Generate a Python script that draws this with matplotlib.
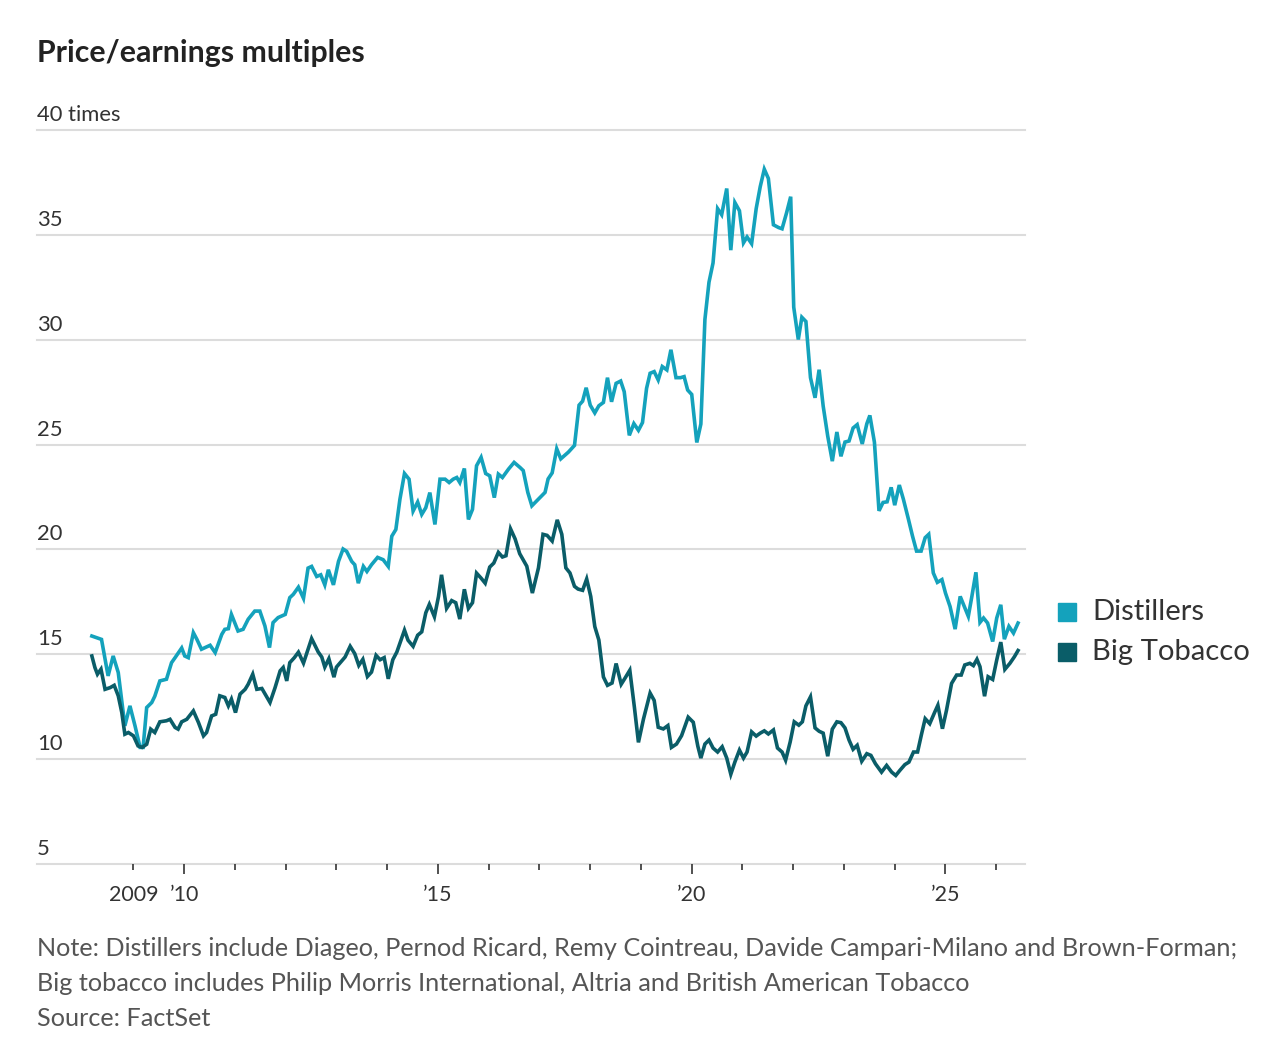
import matplotlib
matplotlib.use("Agg")
import matplotlib.pyplot as plt
from matplotlib.patches import Rectangle
from matplotlib.transforms import offset_copy

# ---------------- data (decimal years, P/E multiple) ----------------
distillers_dates = [
    2008.18, 2008.31, 2008.37, 2008.50, 2008.60, 2008.70, 2008.83, 2008.93, 2009.03, 2009.13,
    2009.19, 2009.26, 2009.36, 2009.42, 2009.52, 2009.65, 2009.75, 2009.82, 2009.95, 2010.01,
    2010.08, 2010.18, 2010.25, 2010.34, 2010.51, 2010.61, 2010.74, 2010.80, 2010.87, 2010.93,
    2011.06, 2011.16, 2011.26, 2011.39, 2011.49, 2011.59, 2011.68, 2011.75, 2011.85, 2011.99,
    2012.08, 2012.15, 2012.25, 2012.35, 2012.44, 2012.51, 2012.61, 2012.69, 2012.77, 2012.84,
    2012.94, 2013.04, 2013.13, 2013.20, 2013.30, 2013.36, 2013.43, 2013.53, 2013.60, 2013.69,
    2013.81, 2013.92, 2014.02, 2014.09, 2014.17, 2014.25, 2014.34, 2014.43, 2014.51, 2014.60,
    2014.68, 2014.76, 2014.84, 2014.94, 2015.04, 2015.14, 2015.22, 2015.30, 2015.37, 2015.43,
    2015.52, 2015.60, 2015.68, 2015.76, 2015.85, 2015.94, 2016.02, 2016.11, 2016.19, 2016.27,
    2016.39, 2016.50, 2016.62, 2016.68, 2016.77, 2016.85, 2016.98, 2017.11, 2017.17, 2017.25,
    2017.34, 2017.42, 2017.57, 2017.69, 2017.78, 2017.85, 2017.92, 2018.00, 2018.09, 2018.17,
    2018.26, 2018.34, 2018.42, 2018.51, 2018.60, 2018.67, 2018.77, 2018.86, 2018.95, 2019.03,
    2019.11, 2019.18, 2019.26, 2019.34, 2019.42, 2019.51, 2019.59, 2019.69, 2019.78, 2019.85,
    2019.92, 2020.00, 2020.10, 2020.18, 2020.26, 2020.34, 2020.42, 2020.51, 2020.59, 2020.69,
    2020.77, 2020.85, 2020.94, 2021.02, 2021.09, 2021.18, 2021.27, 2021.35, 2021.43, 2021.51,
    2021.61, 2021.71, 2021.78, 2021.87, 2021.95, 2022.01, 2022.10, 2022.17, 2022.25, 2022.34,
    2022.43, 2022.51, 2022.59, 2022.68, 2022.77, 2022.86, 2022.94, 2023.02, 2023.10, 2023.18,
    2023.26, 2023.36, 2023.45, 2023.51, 2023.60, 2023.69, 2023.77, 2023.85, 2023.93, 2024.00,
    2024.09, 2024.17, 2024.27, 2024.35, 2024.43, 2024.52, 2024.60, 2024.67, 2024.76, 2024.84,
    2024.93, 2025.00, 2025.09, 2025.19, 2025.29, 2025.37, 2025.45, 2025.52, 2025.60, 2025.68,
    2025.75, 2025.83, 2025.93, 2026.01, 2026.09, 2026.16, 2026.25, 2026.34, 2026.43,
]
distillers_pe = [
    15.87, 15.76, 15.71, 13.97, 14.92, 14.13, 11.59, 12.54, 11.59, 10.56,
    10.56, 12.46, 12.70, 13.00, 13.73, 13.81, 14.60, 14.84, 15.30, 14.92,
    14.84, 16.03, 15.71, 15.24, 15.43, 15.08, 15.95, 16.19, 16.22, 16.90,
    16.11, 16.19, 16.67, 17.06, 17.06, 16.35, 15.32, 16.51, 16.75, 16.90,
    17.70, 17.86, 18.20, 17.67, 19.11, 19.19, 18.71, 18.79, 18.31, 19.03,
    18.31, 19.43, 20.02, 19.91, 19.43, 19.27, 18.39, 19.19, 18.95, 19.27,
    19.62, 19.51, 19.19, 20.63, 20.95, 22.39, 23.62, 23.35, 21.83, 22.26,
    21.67, 21.99, 22.71, 21.19, 23.35, 23.35, 23.19, 23.35, 23.43, 23.19,
    23.86, 21.43, 21.91, 23.99, 24.39, 23.62, 23.51, 22.47, 23.59, 23.43,
    23.83, 24.15, 23.90, 23.76, 22.72, 22.08, 22.40, 22.72, 23.36, 23.65,
    24.80, 24.32, 24.64, 24.96, 26.88, 27.07, 27.71, 26.88, 26.51, 26.85,
    27.01, 28.19, 27.04, 27.92, 28.03, 27.52, 25.44, 26.00, 25.68, 26.05,
    27.68, 28.40, 28.48, 28.08, 28.72, 28.56, 29.52, 28.19, 28.19, 28.24,
    27.60, 27.39, 25.10, 25.98, 30.97, 32.74, 33.66, 36.25, 35.96, 37.21,
    34.27, 36.54, 36.15, 34.62, 34.90, 34.58, 36.25, 37.30, 38.13, 37.69,
    35.48, 35.35, 35.29, 36.06, 36.82, 31.55, 30.01, 31.07, 30.87, 28.19,
    27.23, 28.57, 26.84, 25.40, 24.21, 25.60, 24.44, 25.12, 25.17, 25.79,
    25.95, 25.03, 25.99, 26.39, 25.11, 21.84, 22.24, 22.27, 22.96, 22.11,
    23.07, 22.40, 21.44, 20.64, 19.92, 19.92, 20.56, 20.72, 18.88, 18.43,
    18.56, 17.92, 17.28, 16.20, 17.76, 17.28, 16.81, 17.76, 18.91, 16.52,
    16.73, 16.49, 15.61, 16.73, 17.36, 15.72, 16.33, 16.01, 16.49,
]

tobacco_dates = [
    2008.18, 2008.24, 2008.29, 2008.36, 2008.44, 2008.54, 2008.62, 2008.70, 2008.77, 2008.83,
    2008.90, 2009.00, 2009.09, 2009.17, 2009.26, 2009.34, 2009.42, 2009.52, 2009.65, 2009.72,
    2009.82, 2009.88, 2009.95, 2010.05, 2010.18, 2010.28, 2010.38, 2010.44, 2010.54, 2010.62,
    2010.70, 2010.80, 2010.87, 2010.93, 2011.01, 2011.10, 2011.20, 2011.26, 2011.35, 2011.43,
    2011.53, 2011.69, 2011.79, 2011.89, 2011.95, 2012.02, 2012.08, 2012.17, 2012.25, 2012.35,
    2012.51, 2012.64, 2012.71, 2012.77, 2012.85, 2012.95, 2013.00, 2013.17, 2013.27, 2013.36,
    2013.44, 2013.52, 2013.61, 2013.69, 2013.78, 2013.86, 2013.94, 2014.02, 2014.11, 2014.19,
    2014.34, 2014.41, 2014.51, 2014.60, 2014.68, 2014.76, 2014.83, 2014.93, 2015.01, 2015.07,
    2015.17, 2015.27, 2015.35, 2015.43, 2015.52, 2015.60, 2015.68, 2015.76, 2015.85, 2015.93,
    2016.02, 2016.10, 2016.19, 2016.27, 2016.34, 2016.43, 2016.52, 2016.61, 2016.75, 2016.86,
    2016.98, 2017.07, 2017.15, 2017.25, 2017.35, 2017.44, 2017.52, 2017.60, 2017.69, 2017.76,
    2017.85, 2017.93, 2018.01, 2018.09, 2018.17, 2018.26, 2018.34, 2018.43, 2018.51, 2018.61,
    2018.68, 2018.78, 2018.87, 2018.95, 2019.05, 2019.18, 2019.26, 2019.34, 2019.44, 2019.53,
    2019.60, 2019.70, 2019.80, 2019.93, 2020.03, 2020.12, 2020.18, 2020.26, 2020.34, 2020.42,
    2020.51, 2020.60, 2020.69, 2020.77, 2020.85, 2020.94, 2021.02, 2021.09, 2021.18, 2021.27,
    2021.35, 2021.43, 2021.51, 2021.61, 2021.69, 2021.78, 2021.85, 2021.94, 2022.02, 2022.11,
    2022.18, 2022.25, 2022.34, 2022.43, 2022.51, 2022.59, 2022.68, 2022.77, 2022.86, 2022.94,
    2023.02, 2023.10, 2023.18, 2023.26, 2023.35, 2023.45, 2023.53, 2023.62, 2023.74, 2023.84,
    2023.94, 2024.02, 2024.10, 2024.20, 2024.28, 2024.37, 2024.45, 2024.53, 2024.60, 2024.69,
    2024.79, 2024.85, 2024.94, 2025.02, 2025.12, 2025.22, 2025.31, 2025.38, 2025.48, 2025.55,
    2025.62, 2025.68, 2025.77, 2025.84, 2025.93, 2026.01, 2026.09, 2026.17, 2026.27, 2026.36,
    2026.43,
]
tobacco_pe = [
    14.92, 14.37, 14.05, 14.29, 13.33, 13.41, 13.52, 13.02, 12.22, 11.19,
    11.27, 11.11, 10.63, 10.56, 10.71, 11.43, 11.27, 11.78, 11.83, 11.90,
    11.51, 11.43, 11.78, 11.90, 12.30, 11.75, 11.11, 11.27, 12.06, 12.14,
    13.02, 12.94, 12.54, 12.86, 12.22, 13.10, 13.33, 13.57, 14.05, 13.33,
    13.37, 12.70, 13.41, 14.21, 14.37, 13.73, 14.60, 14.84, 15.10, 14.58,
    15.75, 15.11, 14.87, 14.39, 14.79, 13.91, 14.39, 14.87, 15.38, 15.03,
    14.47, 14.76, 13.94, 14.15, 14.95, 14.74, 14.84, 13.83, 14.74, 15.11,
    16.15, 15.67, 15.38, 15.91, 16.07, 16.98, 17.38, 16.79, 17.75, 18.79,
    17.19, 17.56, 17.46, 16.68, 18.10, 17.19, 17.46, 18.87, 18.63, 18.39,
    19.16, 19.35, 19.86, 19.64, 19.70, 20.98, 20.50, 19.80, 19.20, 17.92,
    19.12, 20.72, 20.67, 20.40, 21.41, 20.72, 19.12, 18.88, 18.24, 18.11,
    18.05, 18.59, 17.76, 16.32, 15.68, 13.92, 13.52, 13.63, 14.56, 13.57,
    13.84, 14.24, 12.48, 10.80, 11.92, 13.15, 12.80, 11.52, 11.44, 11.60,
    10.56, 10.72, 11.12, 12.00, 11.76, 10.62, 10.05, 10.72, 10.91, 10.53,
    10.34, 10.59, 10.05, 9.28, 9.86, 10.43, 10.05, 10.34, 11.30, 11.10,
    11.24, 11.35, 11.20, 11.39, 10.53, 10.34, 9.95, 10.82, 11.78, 11.62,
    11.78, 12.54, 12.97, 11.49, 11.33, 11.24, 10.14, 11.43, 11.78, 11.74,
    11.49, 10.91, 10.47, 10.66, 9.90, 10.26, 10.18, 9.78, 9.38, 9.70,
    9.38, 9.22, 9.46, 9.74, 9.86, 10.34, 10.34, 11.21, 11.93, 11.69,
    12.25, 12.57, 11.45, 12.33, 13.61, 14.01, 14.01, 14.49, 14.57, 14.46,
    14.76, 14.41, 13.00, 13.93, 13.80, 14.73, 15.58, 14.28, 14.57, 14.89,
    15.18,
]

series_names = ["Distillers", "Big Tobacco"]
series_colors = ["#14a2bc", "#0a5d68"]

y_ticks = [5, 10, 15, 20, 25, 30, 35, 40]
y_tick_labels = ["5", "10", "15", "20", "25", "30", "35", "40 times"]
x_major = [2010, 2015, 2020, 2025]
x_major_labels = ["\u201910", "\u201915", "\u201920", "\u201925"]
x_minor = [2009, 2011, 2012, 2013, 2014, 2016, 2017, 2018, 2019, 2021, 2022, 2023, 2024, 2026]
x_minor_labels = ["2009"] + [""] * 13

title = "Price/earnings multiples"
footer = [
    "Note: Distillers include Diageo, Pernod Ricard, Remy Cointreau, Davide Campari-Milano and Brown-Forman;",
    "Big tobacco includes Philip Morris International, Altria and British American Tobacco",
    "Source: FactSet",
]

# ---------------- figure ----------------
W, H = 1278, 1046
fig = plt.figure(figsize=(W / 100, H / 100), dpi=100)
plt.rcParams["font.family"] = ["Lato", "DejaVu Sans"]

left, right, top, bottom = 37, 1025, 130, 864
ax = fig.add_axes([left / W, 1 - bottom / H, (right - left) / W, (bottom - top) / H])
ax.set_xlim(2007.099, 2026.567)
ax.set_ylim(5, 40)

for s in ax.spines.values():
    s.set_visible(False)

grid_color = "#dcdcdc"
for v in y_ticks:
    ax.axhline(v, color=grid_color, lw=1.5, zorder=0, clip_on=False)

ax.plot(distillers_dates, distillers_pe, color=series_colors[0], lw=2.6, zorder=3,
        solid_joinstyle="miter", clip_on=False)
ax.plot(tobacco_dates, tobacco_pe, color=series_colors[1], lw=2.6, zorder=3,
        solid_joinstyle="miter", clip_on=False)

# y labels above gridlines
ax.set_yticks([])
trans = offset_copy(ax.get_yaxis_transform(), fig=fig, x=0, y=5, units="dots")
for v, lab in zip(y_ticks, y_tick_labels):
    ax.text(0, v, lab, transform=trans, ha="left", va="bottom", fontsize=15.8,
            color="#333333")

# x ticks
ax.set_xticks(x_major)
ax.set_xticklabels(x_major_labels)
ax.set_xticks(x_minor, minor=True)
ax.set_xticklabels(x_minor_labels, minor=True)
ax.tick_params(axis="x", which="major", length=7, width=1.2, color="#333333",
               labelsize=15.5, labelcolor="#333333", pad=8)
ax.tick_params(axis="x", which="minor", length=4, width=1.2, color="#333333",
               labelsize=15.5, labelcolor="#333333", pad=11)

# title
fig.text(left / W, 1 - 53 / H, title, ha="left", va="center", fontsize=21.8,
         fontweight="bold", color="#222222")

# legend
for i, (name, col) in enumerate(zip(series_names, series_colors)):
    yc = 612 + 40 * i
    fig.patches.append(Rectangle((1058 / W, 1 - (yc + 9) / H), 18 / W, 18 / H,
                                 transform=fig.transFigure, color=col))
    fig.text(1092 / W, 1 - yc / H, name, ha="left", va="center", fontsize=21.1,
             color="#333333")

# footer
for i, line in enumerate(footer):
    fig.text(left / W, 1 - (948 + 35.5 * i) / H, line, ha="left", va="center",
             fontsize=18.2, color="#555555")

fig.savefig("out.png", dpi=100, facecolor="white")
